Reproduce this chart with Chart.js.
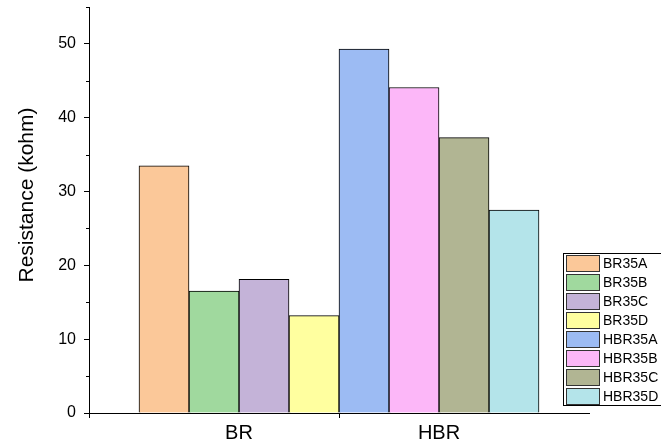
<!DOCTYPE html>
<html>
<head>
<meta charset="utf-8">
<script src="https://cdn.jsdelivr.net/npm/chart.js@4/dist/chart.umd.min.js"></script>
<style>
html,body{margin:0;padding:0;background:#fff;}
#wrap{position:relative;width:661px;height:443px;overflow:hidden;}
</style>
</head>
<body>
<div id="wrap"><canvas id="c" width="661" height="443"></canvas></div>
<script>
// ---- data ----
const seriesNames = ['BR35A','BR35B','BR35C','BR35D','HBR35A','HBR35B','HBR35C','HBR35D'];
const resistance  = [33.5, 16.5, 18.1, 13.2, 49.3, 44.1, 37.3, 27.5];
const groupLabels = ['BR','HBR'];
const yTickValues = [0,10,20,30,40,50];
const yMinorTickValues = [5,15,25,35,45,55];
const seriesColors = ['#FBC899','#A0D99E','#C4B3D8','#FFFF9F','#9CBBF3','#FCB7F8','#B1B593','#B4E4EA'];
const yAxisTitle = 'Resistance (kohm)';

const barsPerGroup = 4;
const FONT = '"Liberation Sans", Arial, sans-serif';

const datasets = seriesNames.map((name, i) => ({
  label: name,
  data: [{x: i + 1, y: resistance[i]}],
  backgroundColor: seriesColors[i],
  borderColor: '#000',
  borderWidth: 1,
  grouped: false,
  barPercentage: 1,
  categoryPercentage: 1
}));

// group centres and boundaries on the index axis
const groupCenters = groupLabels.map((g, k) => k * barsPerGroup + (barsPerGroup + 1) / 2);
const groupBounds = groupLabels.slice(1).map((g, k) => (k + 1) * barsPerGroup + 0.5);
const xMin = 0.5 - 1, xMax = seriesNames.length + 0.5 + 1;

const minorTicks = {
  id: 'minorTicks',
  afterDatasetsDraw(chart) {
    const y = chart.scales.y, ctx = chart.ctx;
    ctx.save();
    ctx.strokeStyle = '#000';
    ctx.lineWidth = 1;
    yMinorTickValues.forEach(v => {
      const py = Math.round(y.getPixelForValue(v)) + 0.5;
      ctx.beginPath();
      ctx.moveTo(y.right - 3, py);
      ctx.lineTo(y.right, py);
      ctx.stroke();
    });
    ctx.restore();
  }
};

const yTitle = {
  id: 'yTitle',
  afterDraw(chart) {
    const ctx = chart.ctx;
    ctx.save();
    ctx.translate(27, 195);
    ctx.rotate(-Math.PI / 2);
    ctx.font = '21px ' + FONT;
    ctx.fillStyle = '#000';
    ctx.textAlign = 'center';
    ctx.textBaseline = 'middle';
    ctx.fillText(yAxisTitle, 0, 0);
    ctx.restore();
  }
};

const boxLegend = {
  id: 'boxLegend',
  afterDraw(chart) {
    const ctx = chart.ctx;
    const left = 563, top = 253, rowH = 19, w = 120;
    const n = chart.data.datasets.length;
    ctx.save();
    ctx.fillStyle = '#fff';
    ctx.fillRect(left, top, w, n * rowH + 1);
    ctx.strokeStyle = '#000';
    ctx.lineWidth = 1;
    ctx.strokeRect(left + 0.5, top + 0.5, w, n * rowH);
    ctx.font = '14px ' + FONT;
    ctx.textBaseline = 'middle';
    chart.data.datasets.forEach((ds, i) => {
      const ry = top + 2 + i * rowH;
      ctx.fillStyle = ds.backgroundColor;
      ctx.fillRect(left + 3, ry, 33, 16);
      ctx.strokeStyle = '#333';
      ctx.strokeRect(left + 3.5, ry + 0.5, 33, 16);
      ctx.fillStyle = '#000';
      ctx.fillText(ds.label, left + 40, ry + 9);
    });
    ctx.restore();
  }
};

new Chart(document.getElementById('c'), {
  type: 'bar',
  data: { datasets },
  plugins: [minorTicks, yTitle, boxLegend],
  options: {
    responsive: false,
    animation: false,
    layout: { padding: { left: 0, top: 7, right: 72, bottom: 0 } },
    plugins: { legend: { display: false }, tooltip: { enabled: false } },
    scales: {
      x: {
        type: 'linear',
        offset: false,
        min: xMin, max: xMax,
        afterFit(s) { s.height = 30; s.paddingLeft = 0; s.paddingRight = 0; },
        afterBuildTicks(s) {
          s.ticks = [xMin, ...groupCenters, ...groupBounds, xMax].sort((a,b)=>a-b).map(v => ({value: v}));
        },
        grid: {
          offset: false,
          drawOnChartArea: false, drawTicks: true, tickLength: 5,
          tickColor: (c) => (c.tick && (groupBounds.includes(c.tick.value) || c.tick.value === xMin)) ? '#000' : 'rgba(0,0,0,0)'
        },
        border: { color: '#000', width: 1 },
        ticks: {
          autoSkip: false, maxRotation: 0, padding: 3,
          color: '#000', font: { family: FONT, size: 20 },
          callback: (v) => { const k = groupCenters.indexOf(v); return k >= 0 ? groupLabels[k] : ''; }
        }
      },
      y: {
        min: 0, max: 55,
        afterFit(s) { s.width = 89; s.paddingTop = 0; s.paddingBottom = 0; },
        afterBuildTicks(s) { s.ticks = yTickValues.map(v => ({value: v})); },
        grid: { drawOnChartArea: false, drawTicks: true, tickLength: 5, tickColor: '#000' },
        border: { color: '#000', width: 1 },
        ticks: { padding: 8, color: '#000', font: { family: FONT, size: 16 } },
        title: { display: false }
      }
    }
  }
});
</script>
</body>
</html>
